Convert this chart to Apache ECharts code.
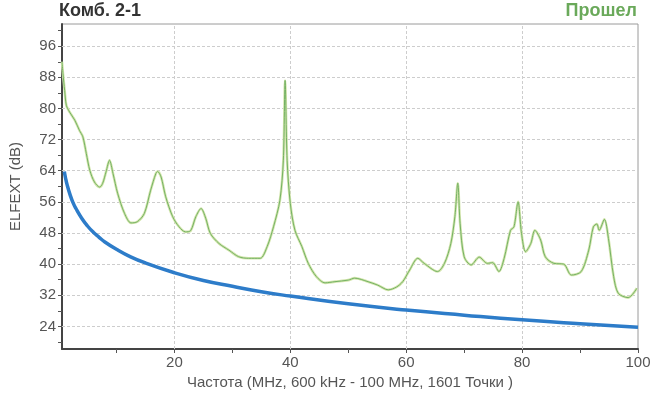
<!DOCTYPE html>
<html><head><meta charset="utf-8">
<script src="https://cdn.jsdelivr.net/npm/echarts@6/dist/echarts.min.js"></script>
<style>html,body{margin:0;padding:0;background:#fff}#c{width:664px;height:395px}</style>
</head><body><div id="c"></div>
<script>
const titleText = "Комб. 2-1";
const statusText = "Прошел";
const yName = "ELFEXT (dB)";
const xName = "Частота (MHz, 600 kHz - 100 MHz, 1601 Точки )";
const xTickValues = [10,20,30,40,50,60,70,80,90,100];
const xLabelValues = [20,40,60,80,100];
const xGridValues = [20,40,60,80];
const yTickValues = [20,24,28,32,36,40,44,48,52,56,60,64,68,72,76,80,84,88,92,96,100];
const yLabelValues = [24,32,40,48,56,64,72,80,88,96];

const greenFreq = [0.6,0.77,1.06,1.35,1.9,2.8,3.6,4.2,4.8,5.4,6.2,7.1,7.6,8.2,8.8,9.4,10.2,11.4,12.5,13.6,14.8,15.9,16.8,17.1,17.7,18.5,19.7,20.8,21.9,22.8,23.7,24.6,25.4,26.2,27.7,29.4,31.1,32.8,34.8,36,37.1,38.2,38.8,39.1,39.45,40,40.8,42,43.1,44.5,46,47.7,50,51.1,53.4,55.1,56.9,58.3,59.4,60.6,62,63.1,65.4,66.6,67.7,68.4,68.9,69.3,70,71.2,72.6,74,74.9,76,76.9,78,78.6,79.3,79.9,80.6,81.5,82.2,83.2,84,85.5,87.2,88.5,90.2,91.5,92.3,92.9,93.3,94.2,94.9,95.8,96.6,98.3,99.8];
const greenDb = [92,88.9,84.6,80.8,79.1,77,74.4,72.7,68.4,64.1,61.1,59.8,60.7,63.7,66.7,63.3,58.2,53,50.6,50.9,53,59,63.3,63.8,62.4,57.3,52.2,49.6,48.3,48.6,52.2,54.3,51.8,47.9,45.3,43.6,41.9,41.5,41.5,44.5,49.6,56.4,66.7,87.2,66.7,55.6,48.7,44.5,40.2,36.8,35.2,35.5,35.9,36.4,35.5,34.6,33.4,34.1,35.5,38.5,41.5,40.2,38.1,40.2,45.3,52.2,60.8,50.5,41.9,39.8,41.8,40.2,40.4,38.1,41.5,48.7,49.6,56,47.9,43.2,45.3,48.7,46.2,41.9,40.2,40,37.2,38.1,43.6,49.6,50.3,48.7,51.5,46.6,36.8,32.5,31.4,33.8];

const limitFreq = [1,1.2,1.5,2,2.5,3,4,5,6,7,8,10,12,15,20,25,30,35,40,50,60,70,80,90,100];
const limitDb = [63.8,62.2,60.3,57.8,55.8,54.3,51.8,49.8,48.2,46.9,45.7,43.8,42.2,40.3,37.8,35.8,34.3,32.9,31.8,29.8,28.2,26.9,25.7,24.7,23.8];

const green = greenFreq.map((f,i)=>[f,greenDb[i]]);
const limit = limitFreq.map((f,i)=>[f,limitDb[i]]);

const FONT = 'Liberation Sans, Arial, sans-serif';
const labelFont = {fontFamily:FONT, fontSize:15, color:'#555'};
const gridLines = xGridValues.map(v=>({xAxis:v})).concat(yLabelValues.map(v=>({yAxis:v})));

const chart = echarts.init(document.getElementById('c'));
chart.setOption({
  animation:false,
  backgroundColor:'#fff',
  title:[
    {text:titleText, left:59, top:2, padding:0, textStyle:{fontFamily:FONT, fontSize:18, fontWeight:'bold', color:'#333'}},
    {text:statusText, right:27, top:2, padding:0, textStyle:{fontFamily:FONT, fontSize:18, fontWeight:'bold', color:'#6aa95a'}}
  ],
  grid:{left:59, right:26, top:24, bottom:46, show:true, borderColor:'#9a9a9a', borderWidth:1, backgroundColor:'transparent'},
  xAxis:{type:'value', min:0.6, max:100, position:'bottom',
     name:xName, nameLocation:'middle', nameGap:26, nameTextStyle:labelFont,
     axisLine:{show:true, onZero:false, lineStyle:{color:'#444', width:2}},
     axisTick:{show:true, customValues:xTickValues, length:4, lineStyle:{color:'#555'}},
     axisLabel:{customValues:xLabelValues, margin:6, ...labelFont},
     splitLine:{show:false}},
  yAxis:{type:'value', min:18.2, max:101.7, position:'left',
     name:yName, nameLocation:'middle', nameGap:39, nameTextStyle:labelFont,
     axisLine:{show:true, onZero:false, lineStyle:{color:'#444', width:2}},
     axisTick:{show:true, customValues:yTickValues, length:4, lineStyle:{color:'#555'}},
     axisLabel:{customValues:yLabelValues, margin:6, ...labelFont},
     splitLine:{show:false}},
  series:[
    {type:'line', data:[], z:1, silent:true,
     markLine:{z:1, silent:true, symbol:['none','none'], label:{show:false}, animation:false,
       lineStyle:{color:'#cdcdcd', type:[3,2], width:1}, emphasis:{disabled:true}, data:gridLines}},
    {type:'line', data:green, showSymbol:false, smooth:0.3, z:2, lineStyle:{color:'#d3e5ad', width:2.6}},
    {type:'line', data:green, showSymbol:false, smooth:0.3, z:3, lineStyle:{color:'#74b264', width:1}},
    {type:'line', data:limit, showSymbol:false, smooth:true, z:4, lineStyle:{color:'#2d7cc9', width:3.5}}
  ]
});
</script></body></html>
